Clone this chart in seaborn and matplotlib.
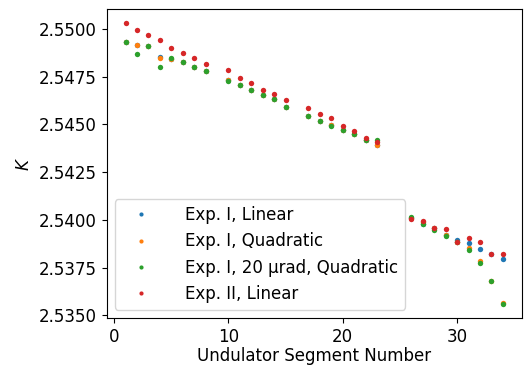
import matplotlib
matplotlib.use("Agg")
import matplotlib.pyplot as plt
from matplotlib.lines import Line2D
import seaborn as sns
import pandas as pd

segments = [1, 2, 3, 4, 5, 6, 7, 8, 10, 11, 12, 13, 14, 15, 17, 18, 19, 20, 21, 22, 23,
            26, 27, 28, 29, 30, 31, 32, 33, 34]

exp1_linear = [2.54932, 2.54916, 2.54910, 2.54852, 2.54843, 2.54829, 2.54801, 2.54779,
               2.54730, 2.54706, 2.54680, 2.54653, 2.54634, 2.54591, 2.54542, 2.54516,
               2.54498, 2.54472, 2.54450, 2.54420, 2.54394,
               2.54010, 2.53976, 2.53955, 2.53920, 2.53896, 2.53878, 2.53847, 2.53820, 2.53793]

exp1_quadratic = [2.54932, 2.54916, 2.54910, 2.54847, 2.54843, 2.54829, 2.54801, 2.54779,
                  2.54730, 2.54706, 2.54680, 2.54653, 2.54634, 2.54591, 2.54542, 2.54516,
                  2.54498, 2.54472, 2.54450, 2.54420, 2.54394,
                  2.54010, 2.53988, 2.53958, 2.53922, 2.53883, 2.53852, 2.53784, 2.53680, 2.53564]

exp1_20urad_quadratic = [2.54932, 2.54871, 2.54910, 2.54803, 2.54848, 2.54829, 2.54801, 2.54779,
                         2.54728, 2.54706, 2.54680, 2.54653, 2.54634, 2.54591, 2.54542, 2.54516,
                         2.54489, 2.54472, 2.54450, 2.54420, 2.54417,
                         2.54016, 2.53977, 2.53948, 2.53914, 2.53882, 2.53841, 2.53775, 2.53679, 2.53559]

exp2_linear = [2.55031, 2.54995, 2.54970, 2.54941, 2.54902, 2.54873, 2.54848, 2.54817,
               2.54784, 2.54741, 2.54716, 2.54680, 2.54660, 2.54630, 2.54587, 2.54553,
               2.54533, 2.54491, 2.54463, 2.54428, 2.54406,
               2.54002, 2.53995, 2.53958, 2.53950, 2.53885, 2.53906, 2.53883, 2.53823, 2.53819]

labels = ["Exp. I, Linear", "Exp. I, Quadratic", "Exp. I, 20 \u03bcrad, Quadratic", "Exp. II, Linear"]
colors = ["#1f77b4", "#ff7f0e", "#2ca02c", "#d62728"]
series = [exp1_linear, exp1_quadratic, exp1_20urad_quadratic, exp2_linear]

plt.rcParams['font.family'] = ['DejaVu Sans']
plt.rcParams['font.size'] = 12

fig = plt.figure(figsize=(5.32, 3.66), dpi=100)
ax = fig.add_axes([0.2006, 0.1311, 0.78, 0.8443])

handles = []
for lab, col, vals in zip(labels, colors, series):
    df = pd.DataFrame({"seg": segments, "K": vals})
    sns.scatterplot(data=df, x="seg", y="K", ax=ax, color=col, s=15,
                    linewidth=0, legend=False)
    handles.append(Line2D([], [], marker="o", linestyle="", color=col,
                          markersize=3, markeredgewidth=0, label=lab))

ax.set_xlabel("Undulator Segment Number", fontsize=12, labelpad=1)
ax.set_ylabel("$K$", fontsize=12)
ax.set_xticks([0, 10, 20, 30])
ax.set_yticks([2.5350, 2.5375, 2.5400, 2.5425, 2.5450, 2.5475, 2.5500])
ax.set_yticklabels(["2.5350", "2.5375", "2.5400", "2.5425", "2.5450", "2.5475", "2.5500"])
ax.tick_params(labelsize=12)
ax.legend(handles=handles, loc="lower left", fontsize=12,
          handlelength=2.3, handletextpad=1.5)

fig.savefig("out.png", dpi=100)
